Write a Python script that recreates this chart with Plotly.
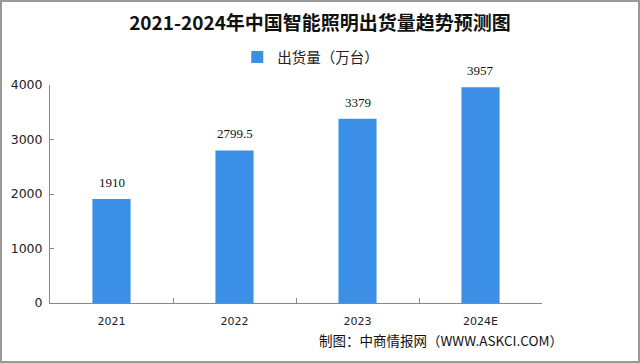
import plotly.graph_objects as go

categories = ["2021", "2022", "2023", "2024E"]
values = [1910, 2799.5, 3379, 3957]
value_labels = ["1910", "2799.5", "3379", "3957"]
series_name = "出货量（万台）"
title = "2021-2024年中国智能照明出货量趋势预测图"
source = "制图：中商情报网（WWW.ASKCI.COM）"
y_ticks = [0, 1000, 2000, 3000, 4000]

W, H = 640, 363
L, R, T, B = 50, 98, 85, 60
PW, PH = W - L - R, H - T - B

fig = go.Figure()
fig.add_trace(go.Bar(
    x=categories, y=values, name=series_name,
    marker=dict(color="#3b8fe6", line=dict(width=0)),
))
for i, (v, t) in enumerate(zip(values, value_labels)):
    fig.add_annotation(x=i, y=v, text=t, showarrow=False, yanchor="bottom", yshift=7,
                       font=dict(family="Liberation Serif, Noto Sans CJK SC", size=13, color="#111"))
fig.update_layout(
    width=W, height=H,
    margin=dict(l=L, r=R, t=T, b=B, autoexpand=False),
    paper_bgcolor="white", plot_bgcolor="white",
    bargap=0.69,
    showlegend=True,
    legend=dict(orientation="h", x=0.53, xanchor="center", y=1 - 57 / H, yanchor="middle",
                yref="container", font=dict(family="Noto Sans CJK SC", size=14.5, color="#222"),
                itemwidth=30, bgcolor="rgba(0,0,0,0)"),
    title=dict(text="<b>" + title + "</b>", x=0.5, xanchor="center", y=1 - 23 / H, yanchor="middle",
               font=dict(family="Noto Sans CJK SC", size=19, color="#111")),
    xaxis=dict(type="category", categoryorder="array", categoryarray=categories,
               range=[-0.5, len(categories) - 0.5],
               showline=True, linecolor="#888", linewidth=1, ticks="inside", tickson="boundaries",
               ticklen=5, tickcolor="#888", ticklabelstandoff=8, tickangle=0,
               tickfont=dict(family="DejaVu Sans", size=11, color="#222"), showgrid=False),
    yaxis=dict(range=[0, 4000], tickvals=y_ticks, showline=True, linecolor="#888", linewidth=1,
               ticks="inside", ticklen=4, tickcolor="#888", showgrid=False, zeroline=False,
               ticklabelstandoff=4,
               tickfont=dict(family="DejaVu Sans", size=12.5, color="#222")),
    font=dict(family="Noto Sans CJK SC"),
)
fig.add_annotation(text=source, xref="paper", yref="paper", x=(565 - L) / PW, xanchor="right",
                   y=1 - (340 - T) / PH, yanchor="middle", showarrow=False,
                   font=dict(family="Noto Sans CJK SC", size=13.5, color="#111"))
fig.add_shape(type="rect", xref="paper", yref="paper", x0=-(L - 1) / PW, x1=1 + (R - 1) / PW,
              y0=-(B - 1) / PH, y1=1 + (T - 1) / PH,
              line=dict(color="#999", width=2), layer="above")
fig.write_html("out.html")
